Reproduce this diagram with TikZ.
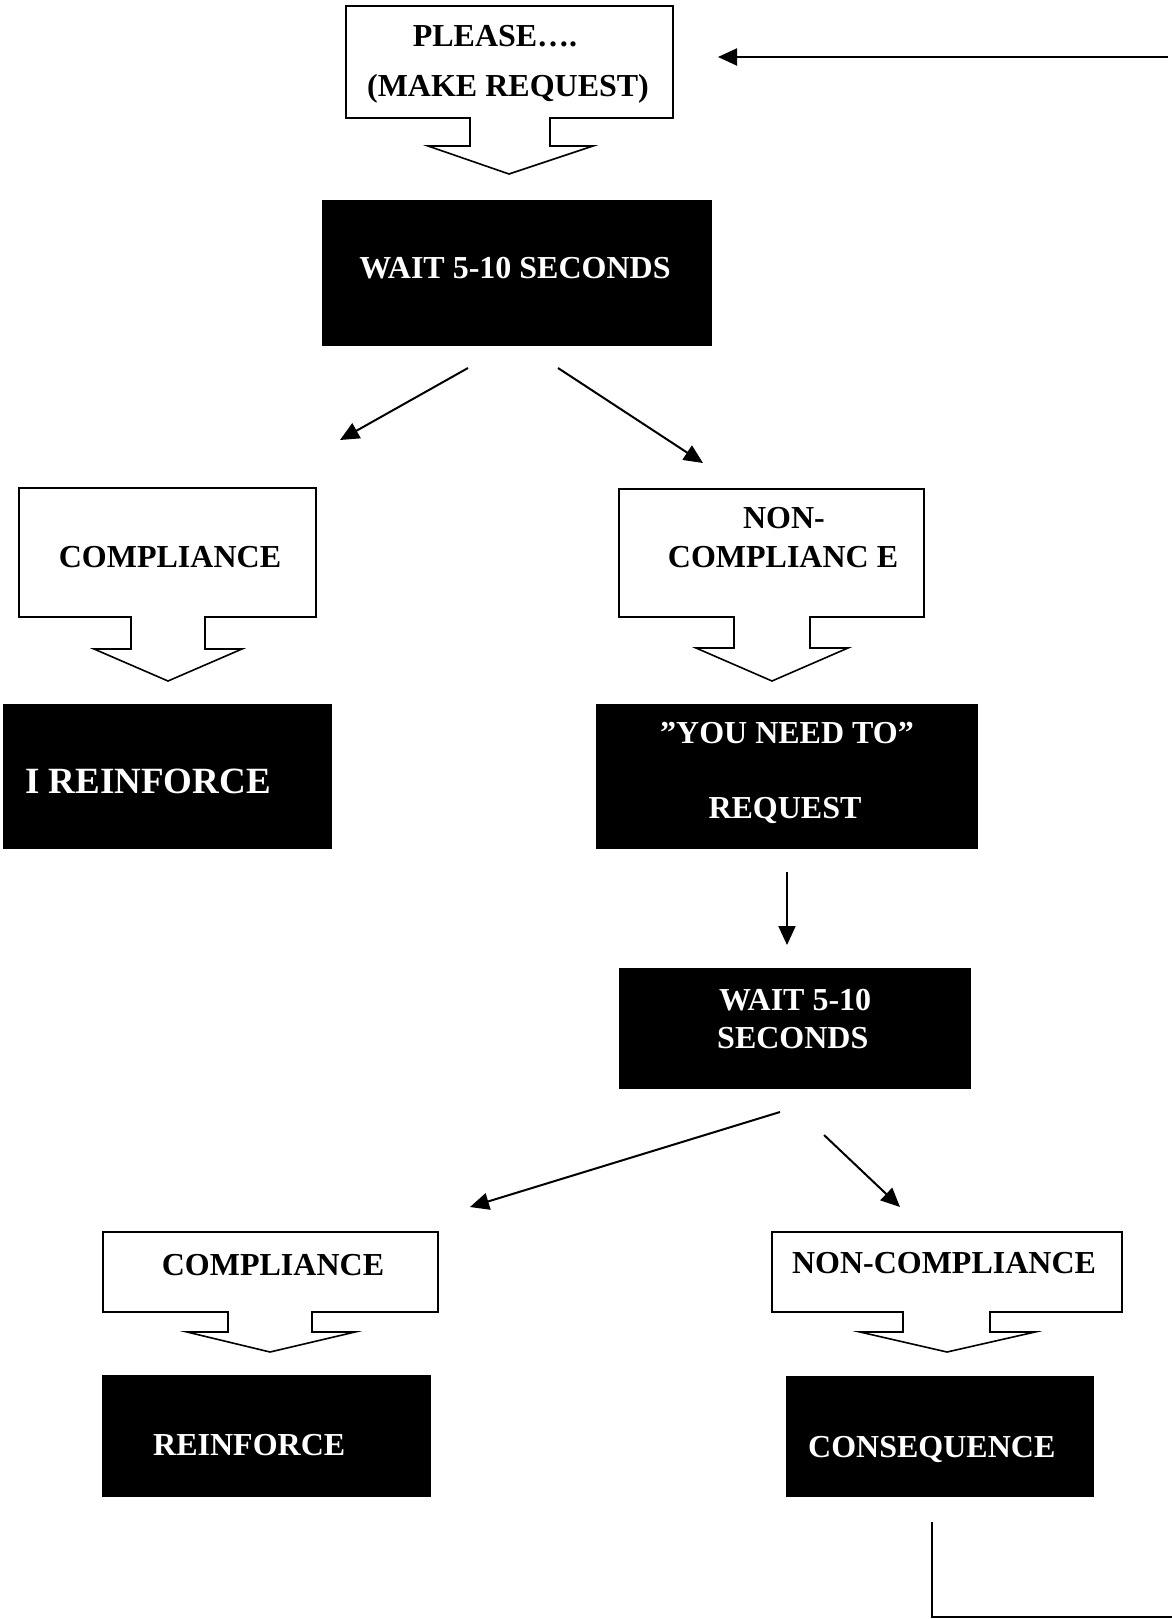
\documentclass[tikz,border=0pt]{standalone}
\usepackage{fontspec}
\setmainfont{Liberation Serif}
\usetikzlibrary{arrows.meta}
\tikzset{
  outl/.style={draw=black,line width=1.6pt,fill=white,line join=miter},
  blk/.style={fill=black,draw=none},
  wtxt/.style={text=white,font=\fontsize{32}{38}\selectfont\bfseries,inner sep=0pt},
  btxt/.style={text=black,font=\fontsize{32}{38}\selectfont\bfseries,inner sep=0pt},
  conn/.style={draw=black,line width=2pt,-{Triangle[length=19pt,width=17pt]}},
  plainline/.style={draw=black,line width=1.8pt}
}
\begin{document}
\begin{tikzpicture}[x=1pt,y=-1pt]
\useasboundingbox (0,0) rectangle (1172,1619);
\fill[white] (0,0) rectangle (1172,1619);

% ---- top request box
\path[outl] (346,6) -- (673,6) -- (673,118) -- (550,118) -- (550,146) -- (593,146) -- (509,174) -- (428,146) -- (470,146) -- (470,118) -- (346,118) -- cycle;
\node[btxt,anchor=base] (please) at (495,47) {PLEASE….};
\node[btxt,anchor=base] (make) at (508,96) {(MAKE REQUEST)};

% ---- wait 1
\node[blk,minimum width=390pt,minimum height=146pt,inner sep=0pt] (wait1) at (517,273) {};
\node[wtxt,anchor=base] (wait1t) at (515,278) {WAIT 5-10 SECONDS};

% ---- compliance left
\path[outl] (19,488) -- (316,488) -- (316,617) -- (205,617) -- (205,649) -- (242,649) -- (168,681) -- (94,649) -- (131,649) -- (131,617) -- (19,617) -- cycle;
\node[btxt,anchor=base] (comp1) at (170,567) {COMPLIANCE};

% ---- I reinforce
\node[blk,minimum width=329pt,minimum height=145pt,inner sep=0pt] (reinf1) at (167.5,776.5) {};
\node[wtxt,anchor=base west,font=\fontsize{37}{44}\selectfont\bfseries] (reinf1t) at (25,793) {I REINFORCE};

% ---- non-compliance right
\path[outl] (619,489) -- (924,489) -- (924,617) -- (810,617) -- (810,648) -- (848,648) -- (772,681) -- (696,648) -- (734,648) -- (734,617) -- (619,617) -- cycle;
\node[btxt,anchor=base] (nonc1a) at (784,528) {NON-};
\node[btxt,anchor=base] (nonc1b) at (783,567) {COMPLIANC E};

% ---- you need to
\node[blk,minimum width=382pt,minimum height=145pt,inner sep=0pt] (need) at (787,776.5) {};
\node[wtxt,anchor=base] (needa) at (787,743) {”YOU NEED TO”};
\node[wtxt,anchor=base] (needb) at (785,818) {REQUEST};

% ---- wait 2
\node[blk,minimum width=352pt,minimum height=121pt,inner sep=0pt] (wait2) at (795,1028.5) {};
\node[wtxt,anchor=base west] (wait2a) at (719,1010) {WAIT 5-10};
\node[wtxt,anchor=base west] (wait2b) at (717,1048) {SECONDS};

% ---- compliance bottom
\path[outl] (103,1232) -- (438,1232) -- (438,1312) -- (312,1312) -- (312,1332) -- (355,1332) -- (270,1352) -- (187,1332) -- (228,1332) -- (228,1312) -- (103,1312) -- cycle;
\node[btxt,anchor=base] (comp2) at (273,1275) {COMPLIANCE};

% ---- reinforce
\node[blk,minimum width=329pt,minimum height=122pt,inner sep=0pt] (reinf2) at (266.5,1436) {};
\node[wtxt,anchor=base west] (reinf2t) at (153,1455) {REINFORCE};

% ---- non-compliance bottom
\path[outl] (772,1232) -- (1122,1232) -- (1122,1312) -- (990,1312) -- (990,1332) -- (1035,1332) -- (947,1352) -- (860,1332) -- (903,1332) -- (903,1312) -- (772,1312) -- cycle;
\node[btxt,anchor=base] (nonc2) at (944,1273) {NON-COMPLIANCE};

% ---- consequence
\node[blk,minimum width=308pt,minimum height=121pt,inner sep=0pt] (conseq) at (940,1436.5) {};
\node[wtxt,anchor=base west] (conseqt) at (808,1457) {CONSEQUENCE};

% ---- connector coordinates
\coordinate (topS) at (1168,57);
\coordinate (topE) at (718,57);
\coordinate (a1s) at (468,368);
\coordinate (a1e) at (340,440);
\coordinate (a2s) at (558,368);
\coordinate (a2e) at (703,463);
\coordinate (a3s) at (787,872);
\coordinate (a3e) at (787,945);
\coordinate (a4s) at (780,1112);
\coordinate (a4e) at (470,1207);
\coordinate (a5s) at (824,1135);
\coordinate (a5e) at (900,1207);
\coordinate (rs) at (932,1522);
\coordinate (rc) at (932,1617);
\coordinate (re) at (1172,1617);

\draw[conn] (topS) -- (topE);
\draw[conn] (a1s) -- (a1e);
\draw[conn] (a2s) -- (a2e);
\draw[conn] (a3s) -- (a3e);
\draw[conn] (a4s) -- (a4e);
\draw[conn] (a5s) -- (a5e);
\draw[plainline] (rs) -- (rc) -- (re);
\end{tikzpicture}
\end{document}
